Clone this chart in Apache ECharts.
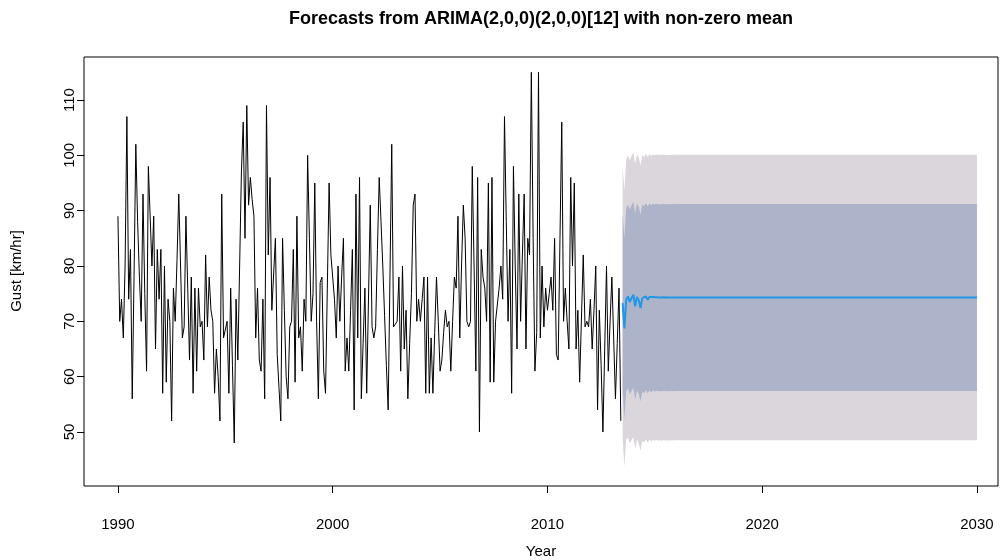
<!DOCTYPE html>
<html><head><meta charset="utf-8">
<script src="https://cdn.jsdelivr.net/npm/echarts@6/dist/echarts.min.js"></script>
<style>html,body{margin:0;padding:0;background:#fff}#c{width:1000px;height:560px}</style>
</head><body><div id="c"></div>
<script>
// monthly series starting January 1990
const startYear = 1990;
const gust = [
 89,70,74,67,80,107,74,83,56,78,
 102,88,78,70,93,75,61,98,98,80,
 89,65,83,74,83,57,80,59,74,70,
 52,76,70,81,93,80,67,69,89,76,
 63,78,57,76,61,76,69,70,63,82,
 69,78,72,70,57,65,60,52,93,67,
 67,70,57,76,62,48,74,63,80,97,
 106,85,109,91,96,92,89,67,76,63,
 61,74,56,109,82,96,72,72,85,64,
 58,52,85,72,60,56,69,70,83,59,
 89,67,69,61,74,70,100,85,70,75,
 95,70,56,77,78,61,57,76,95,82,
 82,74,67,80,70,78,85,61,67,61,
 72,83,54,93,67,96,56,66,76,57,
 57,91,69,67,69,83,96,88,80,71,
 62,54,78,102,69,69,70,78,61,80,
 65,72,56,66,75,91,93,70,74,70,
 74,78,57,78,57,67,57,68,78,70,
 61,63,68,72,69,70,61,70,78,76,
 89,67,80,91,85,70,69,70,98,80,
 61,96,50,83,78,76,70,95,59,96,
 59,70,70,76,80,74,107,88,70,83,
 57,98,80,65,93,70,82,93,65,85,
 82,115,85,61,68,115,67,80,69,76,
 72,75,78,72,85,64,63,85,106,70,
 76,70,65,96,80,95,65,72,59,59,
 82,69,70,69,74,65,72,80,54,72,
 62,50,65,80,61,70,78,67,56,66,
 76,52
];
// forecast: month index (months since Jan 1990)
const fcMonth = [282,283,284,285,286,287,288,289,290,291,292,293,294,295,296,297,298,299,300,301,302,303,304,305,306,307,308,309,310,311,312,480];
const fcMean = [73.3,68.7,73.9,74.5,73.5,74.2,74.8,72.7,74.4,73.8,72.4,74.2,73.9,74.5,73.9,74.4,74.1,74.4,74.2,74.35,74.25,74.3,74.2,74.35,74.25,74.3,74.2,74.3,74.25,74.3,74.3,74.3];
const fcLo80 = [57.3,52.4,57.4,57.9,56.8,57.4,58.0,55.85,57.5,56.9,55.5,57.3,57.0,57.6,57.0,57.5,57.2,57.5,57.3,57.45,57.35,57.4,57.3,57.45,57.35,57.4,57.3,57.4,57.35,57.4,57.4,57.4];
const fcHi80 = [89.3,85.0,90.4,91.1,90.2,91.0,91.6,89.55,91.3,90.7,89.3,91.1,90.8,91.4,90.8,91.3,91.0,91.3,91.1,91.25,91.15,91.2,91.1,91.25,91.15,91.2,91.1,91.2,91.15,91.2,91.2,91.2];
const fcLo95 = [48.8,43.7,48.6,49.0,47.9,48.5,49.1,46.95,48.6,48.0,46.6,48.4,48.1,48.7,48.1,48.6,48.3,48.6,48.4,48.55,48.45,48.5,48.4,48.55,48.45,48.5,48.4,48.5,48.45,48.5,48.5,48.5];
const fcHi95 = [97.8,93.7,99.2,100.0,99.1,99.9,100.5,98.45,100.2,99.6,98.2,100.0,99.7,100.3,99.7,100.2,99.9,100.2,100.0,100.15,100.05,100.1,100.0,100.15,100.05,100.1,100.0,100.1,100.05,100.1,100.1,100.1];
const xTicks = [1990,2000,2010,2020,2030];
const yTicks = [50,60,70,80,90,100,110];

const toYear = m => startYear + m / 12;
const histData = gust.map((v, i) => [toYear(i), v]);
const fx = fcMonth.map(toYear);
const pair = arr => arr.map((v, i) => [fx[i], v]);

function bandSeries(lo, hi, color) {
  return {
    type: 'custom',
    data: fx.map((x, i) => [x, lo[i], hi[i]]),
    encode: {x: 0, y: [1, 2]},
    z: 1,
    silent: true,
    renderItem: function (params, api) {
      if (params.dataIndex !== 0) return null;
      const pts = [];
      for (let i = 0; i < fx.length; i++) pts.push(api.coord([fx[i], hi[i]]));
      for (let i = fx.length - 1; i >= 0; i--) pts.push(api.coord([fx[i], lo[i]]));
      return {type: 'polygon', shape: {points: pts}, style: {fill: color, stroke: null}};
    }
  };
}

const FONT = '"Liberation Sans", Arial, sans-serif';
const chart = echarts.init(document.getElementById('c'), null, {renderer: 'canvas'});
chart.setOption({
  animation: false,
  backgroundColor: '#fff',
  grid: {left: 84, top: 57, width: 914, height: 429, show: true, borderColor: '#000', borderWidth: 1, backgroundColor: 'transparent'},
  xAxis: {
    type: 'value', min: 1988.42, max: 2030.98,
    axisLine: {show: false}, splitLine: {show: false},
    axisTick: {show: true, customValues: xTicks, length: 7, lineStyle: {color: '#000', width: 1}},
    axisLabel: {customValues: xTicks, margin: 31, fontSize: 15, color: '#000', fontFamily: FONT, formatter: v => String(v)}
  },
  yAxis: {
    type: 'value', min: 40.24, max: 117.77,
    axisLine: {show: false}, splitLine: {show: false},
    axisTick: {show: true, customValues: yTicks, length: 7, lineStyle: {color: '#000', width: 1}},
    axisLabel: {customValues: yTicks, rotate: 90, margin: 7, fontSize: 15, color: '#000', fontFamily: FONT, formatter: v => String(v)}
  },
  graphic: [
    {type: 'text', x: 541, y: 19, style: {text: 'Forecasts from ARIMA(2,0,0)(2,0,0)[12] with non-zero mean', font: 'bold 18px ' + FONT, fill: '#000', align: 'center', verticalAlign: 'middle'}},
    {type: 'text', x: 541, y: 552, style: {text: 'Year', font: '15px ' + FONT, fill: '#000', align: 'center', verticalAlign: 'middle'}},
    {type: 'text', x: 17, y: 271, rotation: Math.PI / 2, style: {text: 'Gust [km/hr]', font: '15px ' + FONT, fill: '#000', align: 'center', verticalAlign: 'middle'}}
  ],
  series: [
    bandSeries(fcLo95, fcHi95, '#DBD6DB'),
    bandSeries(fcLo80, fcHi80, '#ADB3C9'),
    {type: 'line', data: histData, showSymbol: false, lineStyle: {color: '#000', width: 1}, z: 3},
    {type: 'line', data: pair(fcMean), showSymbol: false, lineStyle: {color: '#2297E6', width: 2}, z: 3}
  ]
});
</script></body></html>
